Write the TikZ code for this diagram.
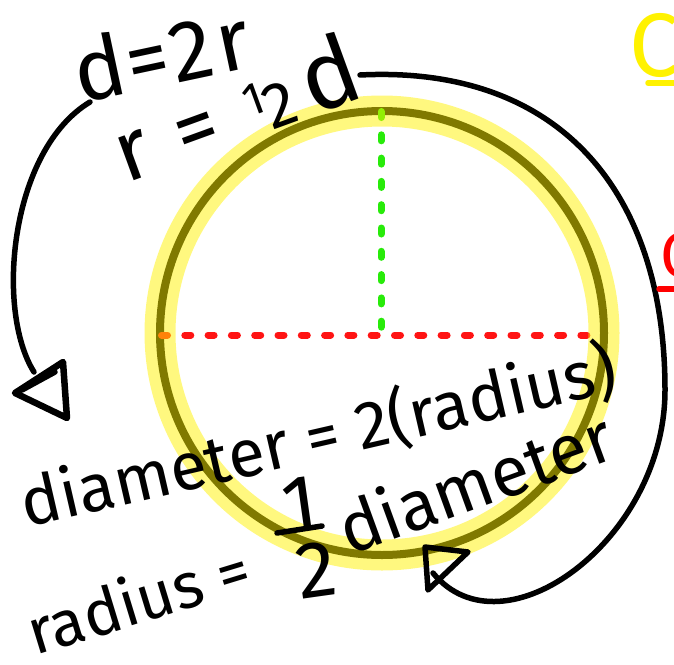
\documentclass[tikz,border=0pt]{standalone}
\usepackage{fontspec}
\setmainfont{Fira Sans}
\definecolor{penred}{RGB}{255,20,20}
\definecolor{pengreen}{RGB}{40,235,10}
\begin{document}
\begin{tikzpicture}[x=1pt,y=-1pt,
  hand/.style={font=\fontsize{67}{76}\selectfont, inner sep=0pt, anchor=base west},
  bighand/.style={font=\fontsize{86}{96}\selectfont, inner sep=0pt, anchor=base west},
  pen/.style={line width=5.5pt, line cap=round, line join=round},
  dots/.style={line width=7pt, line cap=round, dash pattern=on 6pt off 17.3pt},
]
\useasboundingbox (0,0) rectangle (674,664);
\fill[white] (0,0) rectangle (674,664);

% circle outline (under the highlighter)
\node[circle, draw, line width=8pt, minimum size=444pt, inner sep=0pt, outer sep=0pt] (ring) at (382,333) {};

% diameter and radius
\coordinate (dl) at (161.5,335);
\coordinate (dr) at (604,335);
\coordinate (rt) at (381,111.5);
\coordinate (rc) at (381,328);
\draw[dots, penred] (dl) -- (dr);
\draw[dots, pengreen] (rt) -- (rc);

% highlighter
\draw[yellow, opacity=0.5, line width=31pt] (ring.center) circle[radius=222];

% left curved arrow
\coordinate (la) at (90,102);
\coordinate (lb) at (34,372);
\draw[pen] (la) .. controls (10,150) and (-5,310) .. (lb);
\draw[pen, line width=6.5pt] (15,393) -- (63,362) -- (67,418) -- cycle;
\draw[pen] (22,390) -- (55,372);

% right curved arrow
\coordinate (ra) at (360,75);
\coordinate (rm) at (665,390);
\coordinate (rb) at (433,573);
\draw[pen] (ra) .. controls (558,65) and (665,190) .. (rm)
               .. controls (665,540) and (503,658) .. (rb);
\draw[pen] (425,547) -- (468,552) -- (428,590) -- cycle;

% texts
\node[bighand, rotate=12] (t1) at (80,104) {d\kern2pt=\kern2pt2\kern5pt r};
\node[bighand, rotate=20] (t2) at (126,184) {r\kern30pt=\kern32pt\raisebox{20pt}{\fontsize{46}{46}\selectfont 1}\kern-2pt{\fontsize{64}{64}\selectfont 2}\kern12pt{\fontsize{96}{96}\selectfont d}};
\node[hand, rotate=13] (t3) at (26,528) {diameter = 2(radius)};
\node[font=\fontsize{64}{70}\selectfont, inner sep=0pt, anchor=base west, rotate=17] (t5) at (35,656) {radius =};
\node[font=\fontsize{80}{90}\selectfont, inner sep=0pt, rotate=8] (one) at (300,505) {1};
\node[font=\fontsize{80}{90}\selectfont, inner sep=0pt, rotate=8] (two) at (316,570) {2};
\draw[pen] (277,533) -- (322,526);
\node[font=\fontsize{70}{80}\selectfont, inner sep=0pt, anchor=base west, rotate=20] (t4) at (349,556) {diameter};

% cut-off notes at the right edge
\node[font=\fontsize{90}{96}\selectfont, inner sep=0pt, anchor=base west, text=yellow] (yc) at (629,76) {C};
\draw[yellow, pen] (648,83) -- (690,83);
\node[font=\fontsize{64}{70}\selectfont, inner sep=0pt, anchor=base west, text=red] (rcirc) at (660,277) {C};
\draw[red, pen] (659,289) -- (690,289);
\end{tikzpicture}
\end{document}
